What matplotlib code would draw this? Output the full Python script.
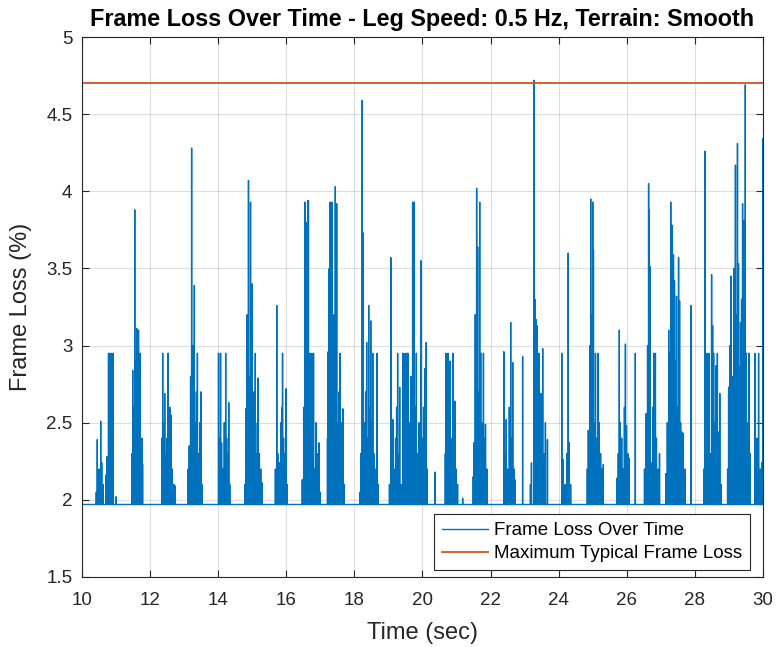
import numpy as np
import matplotlib.pyplot as plt

plt.rcParams['font.family'] = ['Liberation Sans', 'DejaVu Sans']

# spike times (sec) and peak frame loss (%)
spike_times = [
    10.42, 10.45, 10.50, 10.55, 10.58, 10.62, 10.70, 10.74, 10.78, 10.80, 10.82, 10.85, 10.87, 10.90, 10.92, 11.00,
    11.47, 11.49, 11.52, 11.55, 11.57, 11.59, 11.61, 11.63, 11.66, 11.68, 11.70, 11.73, 11.76, 11.78,
    12.35, 12.37, 12.40, 12.43, 12.46, 12.50, 12.53, 12.56, 12.58, 12.61, 12.65, 12.70, 12.74,
    13.12, 13.15, 13.19, 13.22, 13.24, 13.27, 13.30, 13.33, 13.36, 13.39, 13.42, 13.46, 13.49, 13.52,
    14.01, 14.04, 14.07, 14.10, 14.14, 14.18, 14.22, 14.25, 14.28, 14.31, 14.34,
    14.78, 14.81, 14.85, 14.89, 14.92, 14.95, 14.97, 14.99, 15.02, 15.05, 15.09, 15.12, 15.15, 15.17, 15.21, 15.25, 15.29,
    15.68, 15.72, 15.75, 15.80, 15.84, 15.87, 15.89, 15.92, 15.96, 15.99, 16.02,
    16.47, 16.51, 16.55, 16.58, 16.61, 16.63, 16.65, 16.68, 16.70, 16.73, 16.75, 16.78, 16.80, 16.83, 16.87, 16.92, 16.96, 17.00,
    17.21, 17.23, 17.26, 17.28, 17.31, 17.34, 17.37, 17.40, 17.44, 17.46, 17.48, 17.51, 17.55, 17.58, 17.61, 17.63, 17.66, 17.70,
    18.17, 18.19, 18.23, 18.26, 18.29, 18.33, 18.36, 18.39, 18.42, 18.45, 18.48, 18.51, 18.54, 18.57, 18.61, 18.66, 18.70,
    19.03, 19.07, 19.10, 19.13, 19.17, 19.21, 19.24, 19.27, 19.30, 19.33, 19.37,
    19.43, 19.46, 19.49, 19.52, 19.55, 19.57, 19.61, 19.66, 19.71, 19.73, 19.76, 19.79, 19.82, 19.86, 19.90, 19.95,
    19.98, 20.03, 20.07, 20.11, 20.14, 20.37,
    20.67, 20.69, 20.72, 20.75, 20.78, 20.81, 20.84, 20.89, 20.92, 20.95, 20.99, 21.03, 21.18,
    21.49, 21.51, 21.55, 21.59, 21.62, 21.65, 21.68, 21.71, 21.74, 21.79, 21.82, 21.85, 21.89,
    22.39, 22.42, 22.46, 22.50, 22.55, 22.59, 22.62, 22.65, 22.69, 22.72, 22.94,
    23.17, 23.20, 23.27, 23.30, 23.33, 23.36, 23.39, 23.42, 23.45, 23.48, 23.53, 23.57, 23.61, 23.67,
    24.09, 24.13, 24.18, 24.24, 24.28, 24.31, 24.35,
    24.84, 24.87, 24.91, 24.94, 24.97, 25.00, 25.02, 25.05, 25.08, 25.11, 25.16, 25.19, 25.23, 25.27, 25.31,
    25.71, 25.75, 25.78, 25.81, 25.85, 25.89, 25.93, 25.96, 25.99, 26.03, 26.07, 26.25,
    26.52, 26.57, 26.61, 26.64, 26.66, 26.69, 26.72, 26.76, 26.80, 26.84, 26.87, 26.92, 26.96,
    27.15, 27.19, 27.23, 27.26, 27.29, 27.33, 27.35, 27.37, 27.40, 27.42, 27.46, 27.49, 27.52, 27.55, 27.58, 27.62,
    27.66, 27.71, 27.89,
    28.26, 28.30, 28.33, 28.35, 28.38, 28.41, 28.45, 28.49, 28.52, 28.55, 28.58, 28.62, 28.66, 28.69, 28.73, 28.77,
    28.96, 28.99, 29.03, 29.06, 29.10, 29.14, 29.19, 29.22, 29.25, 29.28, 29.31, 29.34, 29.37, 29.40, 29.43, 29.46,
    29.48, 29.51, 29.55, 29.59, 29.62,
    29.77, 29.82, 29.87, 29.92, 29.96, 29.99,
]
spike_peaks = [
    2.05, 2.39, 2.20, 2.51, 2.24, 2.10, 2.16, 2.28, 2.95, 2.60, 2.95, 2.40, 2.95, 2.30, 2.95, 2.02,
    2.30, 2.84, 2.60, 3.88, 2.50, 2.90, 3.11, 2.40, 3.10, 2.30, 2.95, 2.20, 2.40, 2.23,
    2.40, 2.95, 2.50, 2.69, 2.30, 2.40, 2.95, 2.50, 2.60, 2.55, 2.20, 2.10, 2.09,
    2.20, 2.35, 2.80, 4.28, 2.60, 3.00, 3.39, 2.50, 2.70, 2.95, 2.30, 2.50, 2.70, 2.10,
    2.95, 2.40, 2.95, 2.37, 2.20, 2.50, 2.95, 2.40, 2.30, 2.63, 2.10,
    2.10, 2.59, 3.20, 4.07, 2.80, 3.93, 2.60, 3.40, 2.40, 2.70, 2.95, 2.30, 2.50, 2.79, 2.30, 2.20, 2.11,
    2.20, 3.26, 2.30, 2.24, 2.50, 2.60, 2.95, 2.40, 2.30, 2.72, 2.10,
    2.13, 2.60, 3.93, 3.80, 3.00, 3.94, 3.94, 2.50, 2.95, 2.40, 2.95, 2.60, 2.95, 2.20, 2.50, 2.30, 2.37, 2.05,
    2.40, 2.96, 3.50, 3.93, 3.00, 3.93, 2.78, 3.20, 4.03, 2.80, 3.92, 2.50, 2.70, 2.95, 2.30, 2.50, 2.59, 2.10,
    2.05, 2.30, 4.59, 3.73, 2.50, 2.70, 3.02, 2.40, 3.26, 2.60, 3.16, 2.50, 2.95, 2.30, 2.20, 2.95, 2.10,
    2.10, 3.57, 2.40, 2.52, 2.20, 2.40, 2.60, 2.95, 2.30, 2.73, 2.10,
    2.95, 2.70, 2.95, 2.60, 2.95, 2.95, 2.50, 2.80, 3.93, 3.50, 3.93, 2.60, 2.95, 2.30, 2.50, 3.55,
    2.40, 2.60, 2.85, 3.02, 2.20, 2.18,
    2.30, 2.95, 2.50, 2.95, 2.60, 2.90, 2.40, 2.95, 2.50, 2.64, 2.20, 2.10, 2.01,
    2.15, 2.37, 3.20, 4.02, 3.64, 2.70, 3.93, 2.95, 2.50, 2.95, 2.40, 2.49, 2.20,
    2.96, 2.30, 2.52, 2.20, 2.60, 3.15, 2.40, 2.89, 2.20, 2.13, 2.93,
    2.10, 2.24, 4.72, 3.30, 3.17, 3.13, 2.60, 2.95, 2.40, 2.69, 2.98, 2.30, 2.50, 2.39,
    2.95, 2.26, 2.10, 2.30, 3.60, 2.37, 2.10,
    2.20, 2.45, 3.00, 3.95, 3.20, 3.93, 3.62, 2.50, 2.95, 2.40, 2.95, 2.50, 2.30, 2.20, 2.23,
    2.14, 2.30, 3.10, 2.50, 2.40, 2.20, 2.60, 3.01, 2.48, 2.30, 2.27, 2.95,
    2.20, 2.56, 3.00, 4.05, 3.88, 3.51, 2.24, 2.60, 2.95, 2.95, 2.40, 2.20, 2.30,
    2.17, 2.50, 3.10, 2.95, 3.93, 3.78, 2.95, 3.59, 3.42, 2.90, 3.32, 2.60, 3.57, 3.29, 2.50, 2.44,
    2.43, 2.20, 3.26,
    2.20, 4.26, 2.40, 2.95, 2.60, 2.95, 2.30, 3.46, 3.13, 2.95, 2.50, 2.87, 2.95, 2.44, 2.69, 2.10,
    2.20, 2.73, 3.00, 3.45, 2.80, 3.50, 4.17, 3.20, 4.31, 3.53, 2.86, 3.15, 3.30, 3.92, 3.81, 3.00,
    4.69, 2.95, 2.50, 2.95, 2.30,
    2.95, 2.40, 2.95, 2.20, 2.24, 4.34,
]
baseline = 1.97
max_typical = 4.7
t_start, t_end = 10, 30

# each spike rises from the baseline and drops back
half_w = 0.002
t = [t_start]
y = [baseline]
for ts, pk in zip(spike_times, spike_peaks):
    t += [ts - half_w, ts, ts + half_w]
    y += [baseline, pk, baseline]
t.append(t_end)
y.append(baseline)

fig = plt.figure(figsize=(7.77, 6.47), dpi=100)
ax = fig.add_axes([0.1055, 0.1082, 0.8765, 0.8346])

ax.plot(t, y, color='#0072BD', lw=1.0, label='Frame Loss Over Time')
ax.plot([t_start, t_end], [max_typical, max_typical], color='#D95319', lw=1.3,
        label='Maximum Typical Frame Loss')

ax.set_xlim(t_start, t_end)
ax.set_ylim(1.5, 5)
ax.set_xticks(np.arange(10, 31, 2))
ax.set_yticks(np.arange(1.5, 5.01, 0.5))
ax.set_yticklabels(['1.5', '2', '2.5', '3', '3.5', '4', '4.5', '5'])

dark = '#262626'
ax.grid(True, color='#262626', alpha=0.15, lw=0.8)
ax.tick_params(direction='in', top=True, right=True, length=5, width=0.8,
               colors=dark, labelsize=13.5)
ax.tick_params(axis='x', pad=11)
ax.tick_params(axis='y', pad=7)
for s in ax.spines.values():
    s.set_color(dark)
    s.set_linewidth(0.8)

ax.set_xlabel('Time (sec)', fontsize=17, color=dark, labelpad=9)
ax.set_ylabel('Frame Loss (%)', fontsize=17, color=dark, labelpad=10)
ax.set_title('Frame Loss Over Time - Leg Speed: 0.5 Hz, Terrain: Smooth',
             fontsize=16.8, fontweight='bold', color='black', pad=8)

leg = ax.legend(loc='lower right', bbox_to_anchor=(0.981, 0.013), fontsize=13.5,
                fancybox=False, edgecolor=dark, framealpha=1, borderaxespad=0,
                handlelength=2.45, handletextpad=0.35, borderpad=0.42,
                labelspacing=0.3)
leg.get_frame().set_linewidth(0.8)

fig.savefig('out.png', dpi=100)
